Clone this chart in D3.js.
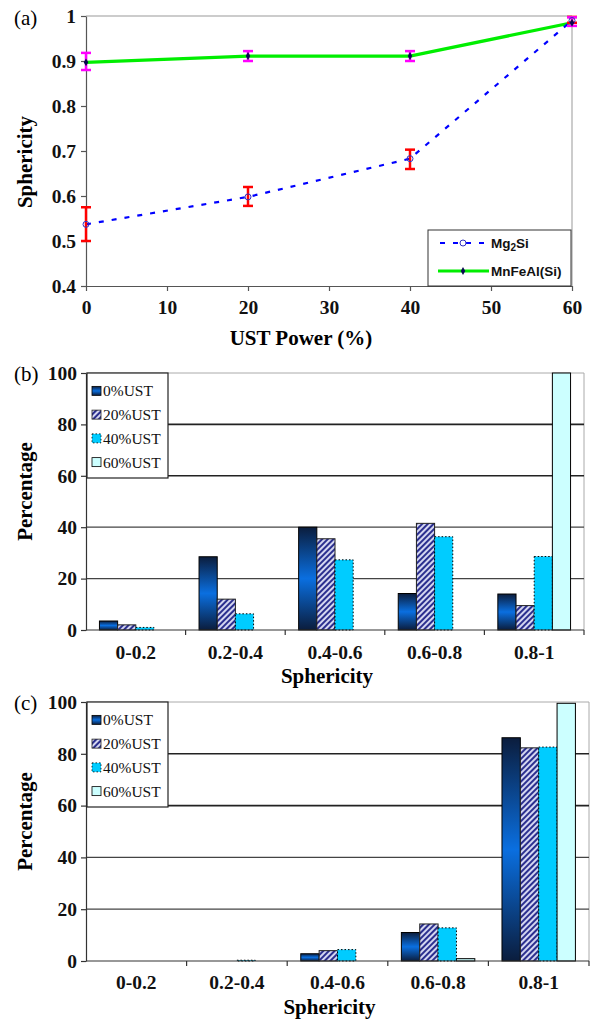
<!DOCTYPE html>
<html>
<head>
<meta charset="utf-8">
<script src="https://cdn.jsdelivr.net/npm/d3@7"></script>
<style>
  body { margin: 0; background: #fff; }
  svg { display: block; }
</style>
</head>
<body>
<div id="container"></div>
<script>
// panel (a) data: sphericity vs UST power
let powers = [0, 20, 40, 60];
let mg2si = [0.537, 0.598, 0.683, 0.99];
let mg2siLo = [0.50, 0.578, 0.66, 0.985];
let mg2siHi = [0.575, 0.62, 0.703, 0.998];
let mnfeal = [0.897, 0.911, 0.911, 0.985];
let mnfealLo = [0.88, 0.90, 0.90, 0.978];
let mnfealHi = [0.918, 0.922, 0.922, 0.997];
let xTicksA = [0, 10, 20, 30, 40, 50, 60];
let yTicksA = [0.4, 0.5, 0.6, 0.7, 0.8, 0.9, 1];

// panels (b) and (c): percentage per sphericity class
let categories = ["0-0.2", "0.2-0.4", "0.4-0.6", "0.6-0.8", "0.8-1"];
let seriesNames = ["0%UST", "20%UST", "40%UST", "60%UST"];
let pctB = [
  [3.5, 28.5, 40, 14.2, 14],   // 0%
  [2, 12, 35.5, 41.5, 9.5],    // 20%
  [1, 6.3, 27.3, 36.3, 28.6],  // 40%
  [0, 0, 0, 0, 100]            // 60%
];
let pctC = [
  [0, 0, 2.8, 11, 86.2],
  [0, 0, 4, 14.3, 82.3],
  [0, 0.3, 4.4, 12.8, 82.6],
  [0, 0, 0, 0.9, 99.5]
];
let yTicksBar = [0, 20, 40, 60, 80, 100];

let W = 592, H = 1019;
let serif = "'Liberation Serif', 'Times New Roman', serif";
let sans = "'Liberation Sans', Arial, sans-serif";
let TICKFONT = 19.5;
let TITLEFONT = 21;

let svg = d3.select('#container').append('svg')
  .attr('width', W).attr('height', H);

let defs = svg.append('defs');
let grad = defs.append('linearGradient').attr('id', 'blueGrad')
  .attr('x1', 0).attr('y1', 0).attr('x2', 0).attr('y2', 1);
grad.append('stop').attr('offset', '0%').attr('stop-color', '#0b1d3d');
grad.append('stop').attr('offset', '50%').attr('stop-color', '#0a6fe0');
grad.append('stop').attr('offset', '100%').attr('stop-color', '#0b1d3d');

let hatch = defs.append('pattern').attr('id', 'hatch')
  .attr('patternUnits', 'userSpaceOnUse').attr('width', 4).attr('height', 4)
  .attr('patternTransform', 'rotate(45)');
hatch.append('rect').attr('width', 4).attr('height', 4).attr('fill', '#d4d6f0');
hatch.append('rect').attr('width', 2).attr('height', 4).attr('fill', '#2b2f8f');

let seriesStyle = [
  { fill: 'url(#blueGrad)', stroke: '#000', dash: null },
  { fill: 'url(#hatch)', stroke: '#222', dash: null },
  { fill: '#00ccff', stroke: '#000', dash: '1.5,2' },
  { fill: '#ccffff', stroke: '#000', dash: null }
];

// ---------- PANEL (a) ----------
let ax = d3.scaleLinear().domain([0, 60]).range([86, 572]);
let ay = d3.scaleLinear().domain([0.4, 1]).range([286, 16]);
let ga = svg.append('g');

// frame (top/right light)
ga.append('path')
  .attr('d', `M${ax(0)},${ay(1)}H${ax(60)}V${ay(0.4)}`)
  .attr('fill', 'none').attr('stroke', '#999').attr('stroke-width', 1);

let axA = ga.append('g').attr('transform', `translate(0,${ay(0.4)})`)
  .call(d3.axisBottom(ax).tickValues(xTicksA).tickSize(5).tickSizeOuter(0));
let ayA = ga.append('g').attr('transform', `translate(${ax(0)},0)`)
  .call(d3.axisLeft(ay).tickValues(yTicksA).tickSize(5).tickSizeOuter(0)
    .tickFormat(d => d === 1 ? '1' : d.toFixed(1)));
[axA, ayA].forEach(g => {
  g.selectAll('path,line').attr('stroke', '#555').attr('stroke-width', 1.2);
  g.selectAll('text').attr('font-family', serif).attr('font-weight', 'bold')
    .attr('font-size', TICKFONT).attr('fill', '#111');
});
axA.selectAll('text').attr('dy', '1.05em').attr('y', 8);
ayA.selectAll('text').attr('x', -10);

let ptsMg = powers.map((p, i) => ({ x: p, y: mg2si[i], lo: mg2siLo[i], hi: mg2siHi[i] }));
let ptsMn = powers.map((p, i) => ({ x: p, y: mnfeal[i], lo: mnfealLo[i], hi: mnfealHi[i] }));
let line = d3.line().x(d => ax(d.x)).y(d => ay(d.y));

ga.append('path').datum(ptsMn).attr('d', line)
  .attr('fill', 'none').attr('stroke', '#00ee00').attr('stroke-width', 3.2);
ga.append('path').datum(ptsMg).attr('d', line)
  .attr('fill', 'none').attr('stroke', '#0000ff').attr('stroke-width', 2.2)
  .attr('stroke-dasharray', '5,8');

function errorBars(pts, color) {
  let g = ga.append('g');
  pts.forEach(d => {
    let x = ax(d.x);
    g.append('line').attr('x1', x).attr('x2', x).attr('y1', ay(d.lo)).attr('y2', ay(d.hi))
      .attr('stroke', color).attr('stroke-width', 2.5);
    [d.lo, d.hi].forEach(v => g.append('line').attr('x1', x - 5).attr('x2', x + 5)
      .attr('y1', ay(v)).attr('y2', ay(v)).attr('stroke', color).attr('stroke-width', 2.5));
  });
}
errorBars(ptsMg, '#ff0000');
errorBars(ptsMn, '#ff00ff');

ga.selectAll('.mg').data(ptsMg).enter().append('circle')
  .attr('cx', d => ax(d.x)).attr('cy', d => ay(d.y)).attr('r', 3)
  .attr('fill', 'none').attr('stroke', '#3030c0').attr('stroke-width', 1);
ga.selectAll('.mn').data(ptsMn).enter().append('path')
  .attr('d', d3.symbol(d3.symbolDiamond, 18))
  .attr('transform', d => `translate(${ax(d.x)},${ay(d.y)})`)
  .attr('fill', '#0a0a50');

// legend (a)
let lgA = ga.append('g');
lgA.append('rect').attr('x', 428).attr('y', 230).attr('width', 143).attr('height', 56)
  .attr('fill', '#fff').attr('stroke', '#333').attr('stroke-width', 1);
lgA.append('line').attr('x1', 440).attr('x2', 487).attr('y1', 243).attr('y2', 243)
  .attr('stroke', '#0000ff').attr('stroke-width', 2.2).attr('stroke-dasharray', '5,8');
lgA.append('circle').attr('cx', 463).attr('cy', 243).attr('r', 3)
  .attr('fill', '#fff').attr('stroke', '#3030c0');
lgA.append('line').attr('x1', 438).attr('x2', 489).attr('y1', 271).attr('y2', 271)
  .attr('stroke', '#00ee00').attr('stroke-width', 3.2);
lgA.append('path').attr('d', d3.symbol(d3.symbolDiamond, 18))
  .attr('transform', 'translate(463,271)').attr('fill', '#0a0a50');
let t1 = lgA.append('text').attr('x', 491).attr('y', 248)
  .attr('font-family', sans).attr('font-weight', 'bold').attr('font-size', 13.5).attr('fill', '#111');
t1.append('tspan').text('Mg');
t1.append('tspan').attr('font-size', 10).attr('dy', 3).text('2');
t1.append('tspan').attr('dy', -3).text('Si');
lgA.append('text').attr('x', 491).attr('y', 276)
  .attr('font-family', sans).attr('font-weight', 'bold').attr('font-size', 13.5).attr('fill', '#111')
  .text('MnFeAl(Si)');

svg.append('text').attr('x', 14).attr('y', 25).attr('font-family', serif)
  .attr('font-size', 21).text('(a)');
svg.append('text').attr('transform', 'translate(32,162) rotate(-90)')
  .attr('text-anchor', 'middle').attr('font-family', serif).attr('font-weight', 'bold')
  .attr('font-size', TITLEFONT).text('Sphericity');
svg.append('text').attr('x', 301).attr('y', 345).attr('text-anchor', 'middle')
  .attr('font-family', serif).attr('font-weight', 'bold').attr('font-size', TITLEFONT)
  .text('UST Power (%)');

// ---------- BAR PANELS ----------
function barPanel(values, opt) {
  let g = svg.append('g');
  let xb = d3.scaleBand().domain(categories).range([opt.left, opt.right]);
  let bw = xb.bandwidth();
  let xs = d3.scaleBand().domain(seriesNames).range([bw * 0.135, bw * 0.865]);
  let y = d3.scaleLinear().domain([0, 100]).range([opt.bottom, opt.top]);

  // frame top/right
  g.append('path').attr('d', `M${opt.left},${y(100)}H${opt.right}V${y(0)}`)
    .attr('fill', 'none').attr('stroke', '#aaa').attr('stroke-width', 1);
  // gridlines
  g.selectAll('.grid').data(yTicksBar.filter(v => v > 0 && v < 100)).enter().append('line')
    .attr('x1', opt.left).attr('x2', opt.right)
    .attr('y1', d => y(d)).attr('y2', d => y(d))
    .attr('stroke', d => d >= 60 ? '#222' : '#444')
    .attr('stroke-width', d => d >= 60 ? 1.6 : 1.2);

  // bars
  seriesNames.forEach((s, si) => {
    let st = seriesStyle[si];
    g.selectAll('.bar' + si).data(values[si].map((v, ci) => ({ c: categories[ci], v: v })))
      .enter().filter(d => d.v > 0).append('rect')
      .attr('x', d => xb(d.c) + xs(s)).attr('width', xs.bandwidth())
      .attr('y', d => y(d.v)).attr('height', d => y(0) - y(d.v))
      .attr('fill', st.fill).attr('stroke', st.stroke).attr('stroke-width', 1)
      .attr('stroke-dasharray', st.dash);
  });

  // axes
  let yAx = g.append('g').attr('transform', `translate(${opt.left},0)`)
    .call(d3.axisLeft(y).tickValues(yTicksBar).tickSize(5).tickSizeOuter(0));
  yAx.selectAll('path,line').attr('stroke', '#333').attr('stroke-width', 1.2);
  yAx.selectAll('text').attr('font-family', serif).attr('font-weight', 'bold')
    .attr('font-size', TICKFONT).attr('fill', '#111').attr('x', -9);

  let xAx = g.append('g').attr('transform', `translate(0,${y(0)})`);
  xAx.append('line').attr('x1', opt.left).attr('x2', opt.right)
    .attr('stroke', '#333').attr('stroke-width', 1.2);
  xAx.selectAll('.tk').data(categories).enter().append('line')
    .attr('x1', d => xb(d) + bw).attr('x2', d => xb(d) + bw)
    .attr('y1', 0).attr('y2', 5).attr('stroke', '#333').attr('stroke-width', 1.2);
  xAx.selectAll('.lbl').data(categories).enter().append('text')
    .attr('x', d => xb(d) + bw / 2).attr('y', opt.catY - y(0))
    .attr('text-anchor', 'middle').attr('font-family', serif).attr('font-weight', 'bold')
    .attr('font-size', TICKFONT).attr('fill', '#111').text(d => d);

  // titles
  svg.append('text').attr('x', (opt.left + opt.right) / 2 - 8).attr('y', opt.titleY)
    .attr('text-anchor', 'middle').attr('font-family', serif).attr('font-weight', 'bold')
    .attr('font-size', TITLEFONT).text('Sphericity');
  svg.append('text').attr('transform', `translate(32,${(y(0) + y(100)) / 2 - 10}) rotate(-90)`)
    .attr('text-anchor', 'middle').attr('font-family', serif).attr('font-weight', 'bold')
    .attr('font-size', TITLEFONT).text('Percentage');
  svg.append('text').attr('x', 14).attr('y', opt.labelY).attr('font-family', serif)
    .attr('font-size', 21).text(opt.label);

  // legend
  let lg = g.append('g').attr('transform', `translate(${opt.left + 1},${y(100)})`);
  lg.append('rect').attr('width', 81).attr('height', opt.legendH)
    .attr('fill', '#fff').attr('stroke', '#222').attr('stroke-width', 1.2);
  let step = (opt.legendH - 10) / 4;
  seriesNames.forEach((s, si) => {
    let st = seriesStyle[si];
    let cy = 6 + step * (si + 0.5);
    lg.append('rect').attr('x', 5).attr('y', cy - 4.5).attr('width', 9).attr('height', 9)
      .attr('fill', st.fill).attr('stroke', st.stroke).attr('stroke-width', 0.8)
      .attr('stroke-dasharray', st.dash);
    lg.append('text').attr('x', 16).attr('y', cy + 5.5)
      .attr('font-family', serif).attr('font-size', 15.5).attr('fill', '#111').text(s);
  });
}

barPanel(pctB, { left: 86, right: 584, top: 373, bottom: 630, catY: 659, titleY: 683,
  label: '(b)', labelY: 381, legendH: 105 });
barPanel(pctC, { left: 86, right: 589, top: 702, bottom: 961, catY: 989, titleY: 1014,
  label: '(c)', labelY: 710, legendH: 105 });
</script>
</body>
</html>
